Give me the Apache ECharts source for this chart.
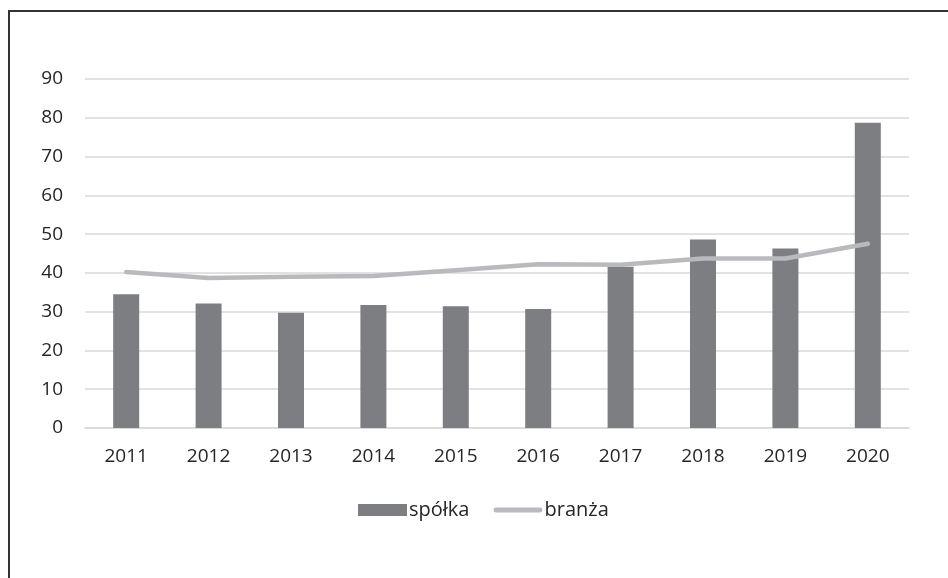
<!DOCTYPE html>
<html><head><meta charset="utf-8">
<script src="https://cdn.jsdelivr.net/npm/echarts@6/dist/echarts.min.js"></script>
<style>html,body{margin:0;padding:0;background:#fff}#c{width:948px;height:578px}</style>
</head><body><div id="c"></div>
<script>
var categories = ['2011','2012','2013','2014','2015','2016','2017','2018','2019','2020'];
var spolka = [34.5, 32.1, 29.7, 31.7, 31.4, 30.7, 41.6, 48.6, 46.3, 78.7];
var branza = [40.2, 38.7, 39.0, 39.2, 40.7, 42.2, 42.1, 43.7, 43.7, 47.5];
var yTicks = {min: 0, max: 90, interval: 10};

var chart = echarts.init(document.getElementById('c'), null, {renderer: 'canvas'});
var font = 'Open Sans, Liberation Sans, sans-serif';
chart.setOption({
  animation: false,
  backgroundColor: '#fff',
  graphic: [
    {type: 'line', shape: {x1: 8, y1: 11, x2: 948, y2: 11}, style: {stroke: '#333', lineWidth: 2}},
    {type: 'line', shape: {x1: 9, y1: 10, x2: 9, y2: 578}, style: {stroke: '#333', lineWidth: 2}}
  ],
  grid: {left: 85, right: 39, top: 79, bottom: 150, containLabel: false},
  legend: {
    top: 495, left: 353, itemGap: 24, itemWidth: 49, itemHeight: 12,
    textStyle: {fontFamily: font, fontSize: 20, color: '#262626', padding: [0,0,0,-3]},
    data: [
      {name: 'spółka', icon: 'rect'},
      {name: 'branża', icon: 'path://M0,0 M49,12 M2,3.5 L47,3.5 A2.5,2.5 0 0 1 47,8.5 L2,8.5 A2.5,2.5 0 0 1 2,3.5 Z'}
    ]
  },
  xAxis: {
    type: 'category', data: categories,
    axisLine: {show: true, lineStyle: {color: '#d9d9d9', width: 1.5}},
    axisTick: {show: false},
    axisLabel: {fontFamily: font, fontSize: 19, color: '#262626', margin: 19}
  },
  yAxis: {
    type: 'value', min: yTicks.min, max: yTicks.max, interval: yTicks.interval,
    axisLine: {show: false}, axisTick: {show: false},
    axisLabel: {fontFamily: font, fontSize: 19, color: '#262626', margin: 22},
    splitLine: {lineStyle: {color: '#d9d9d9', width: 1.5}}
  },
  series: [
    {name: 'spółka', type: 'bar', data: spolka, barWidth: 26,
     itemStyle: {color: '#7d7e82'}},
    {name: 'branża', type: 'line', data: branza, symbol: 'none', smooth: false,
     lineStyle: {color: '#b9babd', width: 4.5, cap: 'round', join: 'round'},
     itemStyle: {color: '#b9babd'}}
  ]
});
</script></body></html>
